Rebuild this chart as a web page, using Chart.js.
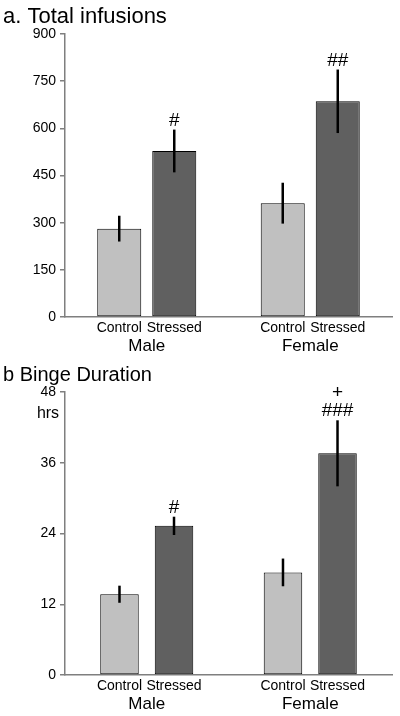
<!DOCTYPE html>
<html>
<head>
<meta charset="utf-8">
<script src="https://cdn.jsdelivr.net/npm/chart.js@4"></script>
<style>
  body { margin: 0; background: #fff; }
  canvas { display: block; }
</style>
</head>
<body>
<canvas id="infusions" width="400" height="358"></canvas>
<canvas id="binge" width="400" height="358"></canvas>
<script>
// shared
const groups = ['Male', 'Female'];
const conditions = ['Control', 'Stressed'];

// a. Total infusions
const infControl = [281, 362];
const infStressed = [528, 686];
const infControlErr = [41, 65];
const infStressedErr = [68, 101];
const infMarks = [['#'], ['##']];
const infTicks = [0, 150, 300, 450, 600, 750, 900];

// b. Binge duration (hrs)
const bingeControl = [13.7, 17.4];
const bingeStressed = [25.3, 37.6];
const bingeControlErr = [1.45, 2.35];
const bingeStressedErr = [1.55, 5.6];
const bingeMarks = [['#'], ['###', '+']];
const bingeTicks = [0, 12, 24, 36, 48];

const FONT = '"Liberation Sans", Arial, sans-serif';

// error bars, significance marks, condition labels and titles
const extras = {
  id: 'extras',
  afterDatasetsDraw(chart, args, opts) {
    const { ctx, chartArea, scales: { y } } = chart;
    ctx.save();
    ctx.fillStyle = '#000';
    ctx.textAlign = 'center';
    ctx.textBaseline = 'alphabetic';
    chart.data.datasets.forEach((ds, di) => {
      const meta = chart.getDatasetMeta(di);
      meta.data.forEach((bar, i) => {
        const v = ds.data[i], e = ds.errors[i];
        const top = y.getPixelForValue(v + e);
        ctx.strokeStyle = '#000';
        ctx.lineWidth = 2.5;
        ctx.beginPath();
        ctx.moveTo(bar.x, top);
        ctx.lineTo(bar.x, y.getPixelForValue(v - e));
        ctx.stroke();

        ctx.font = '19px ' + FONT;
        (ds.marks ? ds.marks[i] : []).forEach((m, k) => {
          ctx.fillText(m, bar.x, top - 4 - k * 18);
        });

        ctx.font = '14px ' + FONT;
        ctx.fillText(ds.label, bar.x, chartArea.bottom + 15);
      });
    });
    ctx.restore();
  },
  afterDraw(chart, args, opts) {
    const ctx = chart.ctx;
    ctx.save();
    ctx.fillStyle = '#000';
    ctx.textBaseline = 'alphabetic';
    ctx.textAlign = 'left';
    ctx.font = opts.titleSize + 'px ' + FONT;
    ctx.fillText(opts.title, 3, 23);
    if (opts.unit) {
      ctx.textAlign = 'center';
      ctx.font = '16px ' + FONT;
      ctx.fillText(opts.unit, 48, 60);
    }
    ctx.restore();
  }
};

function makeChart(id, control, stressed, controlErr, stressedErr, marks, ticks, opts) {
  new Chart(document.getElementById(id), {
    type: 'bar',
    data: {
      labels: groups,
      datasets: [{
        label: conditions[0],
        data: control,
        errors: controlErr,
        backgroundColor: '#c0c0c0',
        borderColor: '#000',
        borderWidth: 1,
        borderSkipped: false
      }, {
        label: conditions[1],
        data: stressed,
        errors: stressedErr,
        marks: marks,
        backgroundColor: '#606060',
        borderColor: '#000',
        borderWidth: 1,
        borderSkipped: false
      }]
    },
    options: {
      responsive: false,
      animation: false,
      barPercentage: opts.barPct,
      categoryPercentage: opts.catPct,
      layout: { padding: { top: 34, right: 8, left: 0, bottom: 0 } },
      plugins: {
        legend: { display: false },
        tooltip: { enabled: false },
        extras: { title: opts.title, titleSize: opts.titleSize, unit: opts.unit }
      },
      scales: {
        x: {
          grid: { display: false },
          border: { color: '#7f7f7f', width: 1.5 },
          ticks: { color: '#000', font: { family: FONT, size: 17 }, padding: 11 },
          afterFit(scale) { scale.height = 41; }
        },
        y: {
          min: 0,
          max: ticks[ticks.length - 1],
          afterBuildTicks(scale) { scale.ticks = ticks.map(v => ({ value: v })); },
          grid: { drawOnChartArea: false, tickLength: 5, color: '#7f7f7f', lineWidth: 1.5 },
          border: { color: '#7f7f7f', width: 1.5 },
          ticks: { color: '#000', font: { family: FONT, size: 14 }, padding: 4 },
          afterFit(scale) { scale.width = 65; }
        }
      }
    },
    plugins: [extras]
  });
}

makeChart('infusions', infControl, infStressed, infControlErr, infStressedErr, infMarks, infTicks,
  { title: 'a. Total infusions', titleSize: 22, barPct: 0.8, catPct: 0.673 });
makeChart('binge', bingeControl, bingeStressed, bingeControlErr, bingeStressedErr, bingeMarks, bingeTicks,
  { title: 'b Binge Duration', titleSize: 20, unit: 'hrs', barPct: 0.706, catPct: 0.667 });
</script>
</body>
</html>
